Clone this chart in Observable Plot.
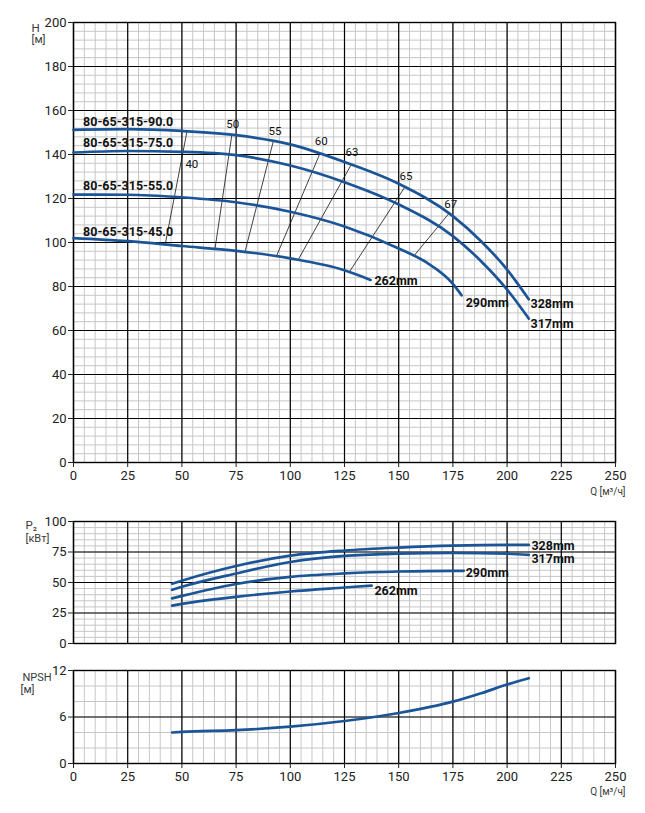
<!DOCTYPE html>
<html>
<head>
<meta charset="utf-8">
<script src="https://cdn.jsdelivr.net/npm/d3@7"></script>
<script src="https://cdn.jsdelivr.net/npm/@observablehq/plot@0.6"></script>
<style>
  html, body { margin: 0; padding: 0; background: #fff; }
  #chart { position: relative; width: 645px; height: 813px; font-family: Roboto, sans-serif; }
  #chart > div, #chart > svg { position: absolute; left: 0; }
</style>
</head>
<body>
<div id="chart"></div>
<script>
// ---------- tick labels ----------
const qTicks = [0, 25, 50, 75, 100, 125, 150, 175, 200, 225, 250];
const headTicks = [0, 20, 40, 60, 80, 100, 120, 140, 160, 180, 200];
const powerTicks = [0, 25, 50, 75, 100];
const npshTicks = [0, 6, 12];
const qMinor = d3.range(0, 251, 5);
const headMinor = d3.range(0, 201, 4);
const powerMinor = d3.range(0, 101, 5);
const npshMinor = d3.range(0, 13, 2);

// ---------- series ----------
const diameters = ["328mm", "317mm", "290mm", "262mm"];
const models = ["80-65-315-90.0", "80-65-315-75.0", "80-65-315-55.0", "80-65-315-45.0"];

// Q-H curves [Q, H]
const head328 = [[0,151.2],[25,151.5],[50,150.7],[75,148.8],[100,144.6],[125,136.6],[150,126.7],[175,112.0],[188,100.6],[200,87.7],[210,74.2]];
const head317 = [[0,140.9],[25,141.6],[50,141.2],[75,139.7],[100,135.0],[125,127.4],[150,117.3],[175,102.9],[188,91.5],[200,78.6],[210,65.4]];
const head290 = [[0,121.8],[25,121.7],[50,120.5],[75,118.3],[100,114.0],[125,107.3],[150,97.3],[163,90.8],[175,81.2],[179,76.0]];
const head262 = [[0,102.0],[25,100.6],[50,98.4],[75,96.2],[100,92.8],[125,87.4],[137,83.0]];

// Q-P2 curves [Q, P2]
const power328 = [[45.5,49.0],[50,51.5],[75,63.5],[100,72.0],[125,76.2],[150,78.6],[175,80.2],[200,80.8],[210,80.8]];
const power317 = [[45.5,44.0],[50,46.5],[75,57.4],[100,66.8],[125,71.8],[150,73.6],[175,74.2],[200,73.6],[210,72.6]];
const power290 = [[45.5,37.0],[50,39.0],[75,48.8],[100,54.6],[125,57.4],[150,59.0],[175,59.6],[180,59.6]];
const power262 = [[45.5,31.0],[50,32.5],[75,38.2],[100,42.6],[125,45.9],[137.5,47.5]];

// Q-NPSH curve [Q, NPSH]
const npshCurve = [[45.5,4.0],[50,4.08],[75,4.3],[100,4.75],[125,5.48],[150,6.52],[175,7.98],[188,9.06],[200,10.19],[210,11.0]];

// efficiency iso-lines (%)
const effLabels = ["40", "50", "55", "60", "63", "65", "67"];
const effTop = [[52.3,150.3],[73,148.6],[92.1,145.8],[113.6,140.3],[128.1,135.4],[153.1,125.6],[173.5,113.6]];
const effBottom = [[42.3,99.1],[65.3,97.3],[79.1,95.8],[93.6,93.8],[103.6,92.1],[127.3,86.7],[156.9,93.8]];
const effLabelPos = [[54.6,135.6],[73.4,153.8],[92.9,150.7],[114.3,145.9],[128.5,140.9],[153.4,130.3],[174,117.5]];

// label positions
const modelLabelPos = [[4.4,154.9],[4.4,145.3],[4.4,125.5],[4.4,104.9]];
const headDiaLabelPos = [[210.8,72.1],[210.8,63.0],[180.9,72.7],[138.8,82.6]];
const powerDiaLabelPos = [[211.2,80.2],[211.2,69.0],[180.9,58.0],[138.8,43.4]];

// ---------- tables ----------
const headSeries = [head328, head317, head290, head262];
const powerSeries = [power328, power317, power290, power262];
const headRows = headSeries.flatMap((s, i) => s.map(([q, v]) => ({d: diameters[i], q, v})));
const powerRows = powerSeries.flatMap((s, i) => s.map(([q, v]) => ({d: diameters[i], q, v})));
const npshRows = npshCurve.map(([q, v]) => ({q, v}));
const effRows = effLabels.flatMap((e, i) => [
  {e, q: effTop[i][0], v: effTop[i][1]},
  {e, q: effBottom[i][0], v: effBottom[i][1]}
]);
const effText = effLabels.map((e, i) => ({e, q: effLabelPos[i][0], v: effLabelPos[i][1]}));
const modelText = models.map((m, i) => ({m, q: modelLabelPos[i][0], v: modelLabelPos[i][1]}));
const headDiaText = diameters.map((d, i) => ({d, q: headDiaLabelPos[i][0], v: headDiaLabelPos[i][1]}));
const powerDiaText = diameters.map((d, i) => ({d, q: powerDiaLabelPos[i][0], v: powerDiaLabelPos[i][1]}));

// ---------- styles ----------
const BLUE = "#1b5597";
const MINOR = "#c6c6c6";
const LABEL = "#3a3a3a";
const baseStyle = {fontFamily: "Roboto, sans-serif", fontSize: "13px", color: "#222", background: "#fff", overflow: "visible"};

function gridMarks(xMinor, yMinor, xMajor, yMajor) {
  return [
    Plot.gridX(xMinor, {stroke: MINOR, strokeOpacity: 1, strokeWidth: 1}),
    Plot.gridY(yMinor, {stroke: MINOR, strokeOpacity: 1, strokeWidth: 1}),
    Plot.gridX(xMajor, {stroke: "#000", strokeOpacity: 1, strokeWidth: 1.2}),
    Plot.gridY(yMajor, {stroke: "#000", strokeOpacity: 1, strokeWidth: 1.2}),
    Plot.frame({stroke: "#000", strokeWidth: 1.4})
  ];
}

// ---------- panel 1: H ----------
const p1 = Plot.plot({
  width: 645, height: 500,
  marginLeft: 73, marginRight: 30, marginTop: 22, marginBottom: 38,
  style: baseStyle,
  x: {domain: [0, 250]},
  y: {domain: [0, 200]},
  marks: [
    ...gridMarks(qMinor, headMinor, qTicks, headTicks),
    Plot.axisX(qTicks, {tickSize: 5, tickPadding: 3, label: null, fontSize: 13, tickFormat: d => d}),
    Plot.axisY(headTicks, {tickSize: 5, tickPadding: 2, label: null, fontSize: 13, tickFormat: d => d}),
    Plot.line(effRows, {x: "q", y: "v", z: "e", stroke: "#111", strokeWidth: 0.8}),
    Plot.line(headRows, {x: "q", y: "v", z: "d", stroke: BLUE, strokeWidth: 2.7, curve: "monotone-x"}),
    Plot.text(effText, {x: "q", y: "v", text: "e", fontSize: 11.5, fill: "#111"}),
    Plot.text(modelText, {x: "q", y: "v", text: "m", textAnchor: "start", fontSize: 12.5, fontWeight: "bold", fill: "#111"}),
    Plot.text(headDiaText, {x: "q", y: "v", text: "d", textAnchor: "start", fontSize: 12.5, fontWeight: "bold", fill: "#111"}),
    Plot.text(["H"], {frameAnchor: "top-left", dx: -42, dy: 1, fontSize: 11.5, fill: LABEL}),
    Plot.text(["[м]"], {frameAnchor: "top-left", dx: -42, dy: 13, fontSize: 11, fill: LABEL}),
    Plot.text(["Q [м³/ч]"], {frameAnchor: "bottom-right", dx: 10, dy: 32, textAnchor: "end", fontSize: 10, fill: LABEL})
  ]
});
p1.style.top = "0px";

// ---------- panel 2: P2 ----------
const p2 = Plot.plot({
  width: 645, height: 150,
  marginLeft: 73, marginRight: 30, marginTop: 21, marginBottom: 7,
  style: baseStyle,
  x: {domain: [0, 250], axis: null},
  y: {domain: [0, 100]},
  marks: [
    ...gridMarks(qMinor, powerMinor, qTicks, powerTicks),
    Plot.axisY(powerTicks, {tickSize: 5, tickPadding: 2, label: null, fontSize: 13, tickFormat: d => d}),
    Plot.line(powerRows, {x: "q", y: "v", z: "d", stroke: BLUE, strokeWidth: 2.7, curve: "monotone-x"}),
    Plot.text(powerDiaText, {x: "q", y: "v", text: "d", textAnchor: "start", fontSize: 12.5, fontWeight: "bold", fill: "#111"}),
    Plot.text(["P₂"], {frameAnchor: "top-left", dx: -48, dy: -1, fontSize: 11.5, fill: LABEL}),
    Plot.text(["[кВт]"], {frameAnchor: "top-left", dx: -48, dy: 13, fontSize: 11, fill: LABEL})
  ]
});
p2.style.top = "500px";

// ---------- panel 3: NPSH ----------
const p3 = Plot.plot({
  width: 645, height: 163,
  marginLeft: 73, marginRight: 30, marginTop: 20, marginBottom: 50,
  style: baseStyle,
  x: {domain: [0, 250]},
  y: {domain: [0, 12]},
  marks: [
    ...gridMarks(qMinor, npshMinor, qTicks, npshTicks),
    Plot.axisX(qTicks, {tickSize: 5, tickPadding: 3, label: null, fontSize: 13, tickFormat: d => d}),
    Plot.axisY(npshTicks, {tickSize: 5, tickPadding: 2, label: null, fontSize: 13, tickFormat: d => d}),
    Plot.line(npshRows, {x: "q", y: "v", stroke: BLUE, strokeWidth: 2.7, curve: "monotone-x"}),
    Plot.text(["NPSH"], {frameAnchor: "top-left", dx: -51, dy: 3, fontSize: 11, fill: LABEL}),
    Plot.text(["[м]"], {frameAnchor: "top-left", dx: -53, dy: 15, fontSize: 11, fill: LABEL}),
    Plot.text(["Q [м³/ч]"], {frameAnchor: "bottom-right", dx: 10, dy: 31, textAnchor: "end", fontSize: 10, fill: LABEL})
  ]
});
p3.style.top = "650px";

const chart = document.getElementById("chart");
chart.append(p1, p2, p3);
</script>
</body>
</html>
